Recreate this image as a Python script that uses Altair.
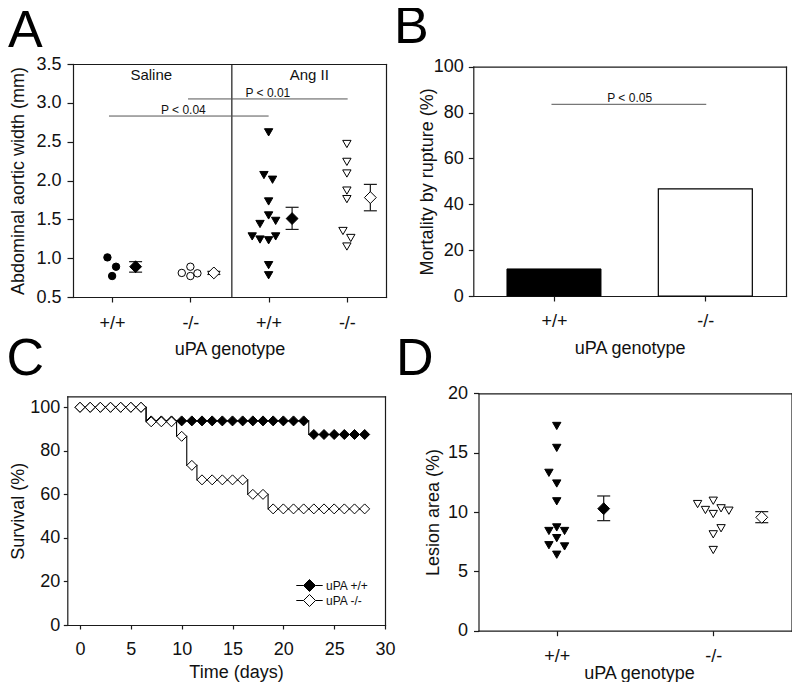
import json
import altair as alt
import pandas as pd

FONT = "Liberation Sans"
W, H = 784, 674
LC = "#1a1a1a"
LW = 1.2
TXT = "#111111"

# ---------------- Panel A: abdominal aortic width ----------------
a_tick_labels = ["+/+", "-/-", "+/+", "-/-"]
a_sal_wt_x = [0.94, 1.05, 1.00]
a_sal_wt_y = [1.01, 0.89, 0.77]
a_sal_ko_x = [1.89, 2.00, 2.00, 2.09]
a_sal_ko_y = [0.81, 0.89, 0.77, 0.805]
a_ang_wt_x = [3.00, 2.94, 3.05, 3.00, 3.00, 2.89, 3.09, 2.79, 2.89, 3.00, 3.09, 3.00, 3.00]
a_ang_wt_y = [2.62, 2.07, 2.01, 1.73, 1.55, 1.44, 1.48, 1.28, 1.24, 1.23, 1.28, 0.91, 0.78]
a_ang_ko_x = [4.00, 4.00, 4.00, 4.00, 4.00, 3.95, 4.05, 4.00]
a_ang_ko_y = [2.47, 2.24, 2.09, 1.87, 1.76, 1.35, 1.26, 1.15]
a_mean_x = [1.30, 2.30, 3.30, 4.30]
a_mean = [0.89, 0.81, 1.51, 1.78]
a_lo = [0.82, 0.79, 1.37, 1.61]
a_hi = [0.955, 0.83, 1.655, 1.95]
a_mean_filled = [True, False, True, False]
a_groups = ["Saline", "Ang II"]
a_group_x = [1.50, 3.52]
a_group_y = [3.29, 3.29]
a_divider = [2.53]
a_p_text = ["P < 0.04", "P < 0.01"]
a_p_x1 = [0.96, 1.97]
a_p_x2 = [3.00, 4.01]
a_p_y = [2.83, 3.05]
a_p_tx = [1.91, 2.99]

# ---------------- Panel B: mortality by rupture ----------------
b_geno = ["+/+", "-/-"]
b_pos = [1, 2]
b_mort = [11.8, 46.7]
b_p_text = ["P < 0.05"]
b_p_x1 = [1.00]
b_p_x2 = [1.99]
b_p_y = [83.6]
b_p_tx = [1.50]

# ---------------- Panel C: survival ----------------
c_days = [0, 1, 2, 3, 4, 5, 6, 7, 8, 9, 10, 11, 12, 13, 14, 15, 16, 17, 18, 19,
          20, 21, 22, 23, 24, 25, 26, 27, 28]
c_wt = [100, 100, 100, 100, 100, 100, 100, 93.75, 93.75, 93.75, 93.75, 93.75,
        93.75, 93.75, 93.75, 93.75, 93.75, 93.75, 93.75, 93.75, 93.75, 93.75,
        93.75, 87.5, 87.5, 87.5, 87.5, 87.5, 87.5]
c_ko = [100, 100, 100, 100, 100, 100, 100, 93.33, 93.33, 93.33, 86.67, 73.33,
        66.67, 66.67, 66.67, 66.67, 66.67, 60.0, 60.0, 53.33, 53.33, 53.33, 53.33,
        53.33, 53.33, 53.33, 53.33, 53.33, 53.33]
c_series = ["uPA +/+", "uPA -/-"]

# ---------------- Panel D: lesion area ----------------
d_geno = ["+/+", "-/-"]
d_wt_x = [1.00, 1.00, 0.95, 1.00, 1.00, 0.95, 1.00, 1.05, 1.00, 0.95, 1.05, 1.00]
d_wt_y = [17.25, 15.4, 13.3, 12.4, 10.9, 8.4, 8.7, 8.4, 7.8, 7.2, 7.1, 6.4]
d_ko_x = [1.90, 2.00, 1.95, 2.00, 2.05, 2.10, 2.00, 2.05, 2.00]
d_ko_y = [10.67, 10.95, 10.17, 9.83, 10.31, 10.11, 8.12, 8.63, 6.80]
d_mean_x = [1.30, 2.31]
d_mean = [10.28, 9.55]
d_lo = [9.27, 9.10]
d_hi = [11.35, 10.03]
d_mean_filled = [True, False]

# ---------------- panel geometry (pixels inside the canvas) ----------------
XA = ([0.5, 4.5], [65, 378]);      YA = ([0.5, 3.5], [289, 56])
XB = ([0.5, 2.5], [465.3, 778]);   YB = ([0, 100], [288, 58.7])
XC = ([-1.25, 30], [59.3, 377]);   YC = ([0, 105], [617, 388.4])
XD = ([0.5, 2.5], [470.5, 783.5]); YD = ([0, 20], [622.7, 385.3])


def S(spec):
    dom, rng = spec
    return alt.Scale(domain=dom, range=rng, nice=False, zero=False)


def ex(field, spec, axis=None):
    return alt.X(field, type="quantitative", scale=S(spec), axis=axis)


def ey(field, spec, axis=None):
    return alt.Y(field, type="quantitative", scale=S(spec), axis=axis)


def lbl_expr(labels):
    return json.dumps(labels) + "[round(datum.value) - 1]"


AXC = dict(grid=False, domainColor=LC, domainWidth=LW, domainCap="square",
           tickColor=LC, tickWidth=LW, labelFont=FONT, labelFontSize=18,
           labelColor=TXT, titleFont=FONT, titleFontSize=18, titleFontWeight="normal",
           titleColor=TXT, labelFlush=False, labelOverlap=False,
           titleBaseline="alphabetic")


def frame(orient, offset):
    return alt.Axis(orient=orient, offset=offset, ticks=False, labels=False, title="",
                    grid=False, domainColor=LC, domainWidth=LW, domainCap="square")


def pts(df, shape, fill, size):
    return alt.Chart(df).mark_point(shape=shape, filled=True, fill=fill, stroke="black",
                                    strokeWidth=1, size=size, opacity=1)


layers = []

# ===== Panel A =====
ax_A_x = alt.Axis(orient="bottom", offset=289 - H, values=[1, 2, 3, 4],
                  labelExpr=lbl_expr(a_tick_labels), title="uPA genotype",
                  tickSize=5, labelPadding=12, titleY=57, **AXC)
ax_A_y = alt.Axis(orient="left", offset=-65, values=[0.5, 1.0, 1.5, 2.0, 2.5, 3.0, 3.5],
                  format=".1f", title="Abdominal aortic width (mm)", tickSize=6,
                  labelPadding=6, titleX=15.5 - 65, **AXC)

df = pd.DataFrame({"x": a_sal_wt_x, "y": a_sal_wt_y})
layers.append(pts(df, "circle", "black", 55).encode(x=ex("x", XA, ax_A_x), y=ey("y", YA, ax_A_y)))
df = pd.DataFrame({"x": a_sal_ko_x, "y": a_sal_ko_y})
layers.append(pts(df, "circle", "white", 55).encode(x=ex("x", XA, frame("top", -56)),
                                                      y=ey("y", YA, frame("right", 378 - W))))
df = pd.DataFrame({"x": a_ang_wt_x, "y": a_ang_wt_y})
layers.append(pts(df, "triangle-down", "black", 70).encode(x=ex("x", XA), y=ey("y", YA)))
df = pd.DataFrame({"x": a_ang_ko_x, "y": a_ang_ko_y})
layers.append(pts(df, "triangle-down", "white", 70).encode(x=ex("x", XA), y=ey("y", YA)))

a_err = pd.DataFrame({"x": a_mean_x, "m": a_mean, "lo": a_lo, "hi": a_hi, "f": a_mean_filled})
layers.append(alt.Chart(a_err).mark_rule(color=LC, strokeWidth=1.2).encode(
    x=ex("x", XA), y=ey("lo", YA), y2="hi"))
layers.append(alt.Chart(a_err).transform_fold(["lo", "hi"], as_=["k", "v"]).mark_tick(
    orient="horizontal", size=13, thickness=1.2, color=LC, opacity=1).encode(
    x=ex("x", XA), y=ey("v:Q", YA)))
layers.append(pts(a_err[a_err.f], "diamond", "black", 140).encode(x=ex("x", XA), y=ey("m", YA)))
layers.append(pts(a_err[~a_err.f], "diamond", "white", 140).encode(x=ex("x", XA), y=ey("m", YA)))

df = pd.DataFrame({"x": a_divider, "y0": [0.5], "y1": [3.5]})
layers.append(alt.Chart(df).mark_rule(color=LC, strokeWidth=1.2).encode(
    x=ex("x", XA), y=ey("y0", YA), y2="y1"))

df = pd.DataFrame({"t": a_p_text, "x1": a_p_x1, "x2": a_p_x2, "y": a_p_y, "tx": a_p_tx})
layers.append(alt.Chart(df).mark_rule(color="#555555", strokeWidth=1).encode(
    x=ex("x1", XA), x2="x2", y=ey("y", YA)))
layers.append(alt.Chart(df).mark_text(font=FONT, fontSize=12, color=TXT, baseline="alphabetic",
                                      align="center", dy=-2).encode(
    x=ex("tx", XA), y=ey("y", YA), text="t:N"))

df = pd.DataFrame({"t": a_groups, "x": a_group_x, "y": a_group_y})
layers.append(alt.Chart(df).mark_text(font=FONT, fontSize=15, color=TXT, baseline="alphabetic",
                                      align="center").encode(
    x=ex("x", XA), y=ey("y", YA), text="t:N"))

# ===== Panel B =====
ax_B_x = alt.Axis(orient="bottom", offset=288 - H, values=[1, 2], labelExpr=lbl_expr(b_geno),
                  title="uPA genotype", tickSize=5, labelPadding=11.3, titleY=57, **AXC)
ax_B_y = alt.Axis(orient="left", offset=-465.3, values=[0, 20, 40, 60, 80, 100],
                  title="Mortality by rupture (%)", tickSize=5, labelPadding=5,
                  titleX=424.3 - 465.3, **AXC)
b_df = pd.DataFrame({"x": b_pos, "v": b_mort, "g": b_geno})
layers.append(alt.Chart(b_df[b_df.x == 1]).mark_bar(size=94, fill="black", stroke="black",
                                                    strokeWidth=1).encode(
    x=ex("x", XB, ax_B_x), y=ey("v", YB, ax_B_y)))
layers.append(alt.Chart(b_df[b_df.x == 2]).mark_bar(size=94, fill="white", stroke="black",
                                                    strokeWidth=1.2).encode(
    x=ex("x", XB, frame("top", -58.7)), y=ey("v", YB, frame("right", 778 - W))))
df = pd.DataFrame({"t": b_p_text, "x1": b_p_x1, "x2": b_p_x2, "y": b_p_y, "tx": b_p_tx})
layers.append(alt.Chart(df).mark_rule(color="#555555", strokeWidth=1).encode(
    x=ex("x1", XB), x2="x2", y=ey("y", YB)))
layers.append(alt.Chart(df).mark_text(font=FONT, fontSize=12, color=TXT, baseline="alphabetic",
                                      align="center", dy=-2).encode(
    x=ex("tx", XB), y=ey("y", YB), text="t:N"))

# ===== Panel C =====
ax_C_x = alt.Axis(orient="bottom", offset=617 - H, values=[0, 5, 10, 15, 20, 25, 30],
                  title="Time (days)", tickSize=4, labelPadding=11.4, titleY=52, titleX=228, **AXC)
ax_C_y = alt.Axis(orient="left", offset=-59.3, values=[0, 20, 40, 60, 80, 100],
                  title="Survival (%)", tickSize=4, labelPadding=3.5, titleX=15.0 - 59.3, **AXC)
c_df = pd.DataFrame({
    "day": c_days + c_days,
    "s": c_wt + c_ko,
    "series": [c_series[0]] * len(c_days) + [c_series[1]] * len(c_days),
})
layers.append(alt.Chart(c_df[c_df.series == c_series[0]]).mark_line(
    interpolate="step", color="black", strokeWidth=1.1).encode(
    x=ex("day", XC, ax_C_x), y=ey("s", YC, ax_C_y)))
layers.append(alt.Chart(c_df[c_df.series == c_series[1]]).mark_line(
    interpolate="step", color="black", strokeWidth=1.1).encode(
    x=ex("day", XC, frame("top", -388.4)), y=ey("s", YC, frame("right", 377 - W))))
LEG_PATH = "M-2.2,0H-1M1,0H2.2M0,-1L1,0L0,1L-1,0Z"
layers.append(alt.Chart(c_df).mark_point(shape="diamond", filled=True, stroke="black",
                                         strokeWidth=1, size=100, opacity=1).encode(
    x=ex("day", XC), y=ey("s", YC),
    fill=alt.Fill("series:N", scale=alt.Scale(domain=c_series, range=["black", "white"]),
                  legend=alt.Legend(orient="none", legendX=295, legendY=571, title=None,
                                    symbolType=LEG_PATH, symbolSize=144,
                                    symbolStrokeColor="black", symbolStrokeWidth=1,
                                    symbolOpacity=1, labelFont=FONT, labelFontSize=12,
                                    labelColor=TXT, labelOffset=10, rowPadding=-4,
                                    padding=0))))

# ===== Panel D =====
ax_D_x = alt.Axis(orient="bottom", offset=622.7 - H, values=[1, 2], labelExpr=lbl_expr(d_geno),
                  title="uPA genotype", tickSize=5, labelPadding=11.6, titleY=47.3, titleX=631,
                  **AXC)
ax_D_y = alt.Axis(orient="left", offset=-470.5, values=[0, 5, 10, 15, 20],
                  title="Lesion area (%)", tickSize=5, labelPadding=6, titleX=430.3 - 470.5, **AXC)
df = pd.DataFrame({"x": d_wt_x, "y": d_wt_y})
layers.append(pts(df, "triangle-down", "black", 70).encode(x=ex("x", XD, ax_D_x),
                                                           y=ey("y", YD, ax_D_y)))
df = pd.DataFrame({"x": d_ko_x, "y": d_ko_y})
layers.append(pts(df, "triangle-down", "white", 70).encode(
    x=ex("x", XD, frame("top", -385.3)), y=ey("y", YD, frame("right", 783.5 - W))))
d_err = pd.DataFrame({"x": d_mean_x, "m": d_mean, "lo": d_lo, "hi": d_hi, "f": d_mean_filled})
layers.append(alt.Chart(d_err).mark_rule(color=LC, strokeWidth=1.2).encode(
    x=ex("x", XD), y=ey("lo", YD), y2="hi"))
layers.append(alt.Chart(d_err).transform_fold(["lo", "hi"], as_=["k", "v"]).mark_tick(
    orient="horizontal", size=13, thickness=1.2, color=LC, opacity=1).encode(
    x=ex("x", XD), y=ey("v:Q", YD)))
layers.append(pts(d_err[d_err.f], "diamond", "black", 140).encode(x=ex("x", XD), y=ey("m", YD)))
layers.append(pts(d_err[~d_err.f], "diamond", "white", 140).encode(x=ex("x", XD), y=ey("m", YD)))

# ===== Panel letters =====
for letter, px, py in [("A", 0, 39), ("B", 386, 35), ("C", -1.5, 367), ("D", 388, 367)]:
    layers.append(alt.Chart(pd.DataFrame({"t": [letter]})).mark_text(
        font=FONT, fontSize=52, color="black", align="left", baseline="alphabetic").encode(
        x=alt.value(px), y=alt.value(py), text="t:N"))

chart = alt.layer(*layers).resolve_scale(
    x="independent", y="independent"
).resolve_axis(
    x="independent", y="independent"
).properties(
    width=W, height=H, autosize=alt.AutoSizeParams(type="none"), padding=0
).configure_view(stroke="transparent")

chart.save("out.html", embed_options={"renderer": "svg", "actions": False})
